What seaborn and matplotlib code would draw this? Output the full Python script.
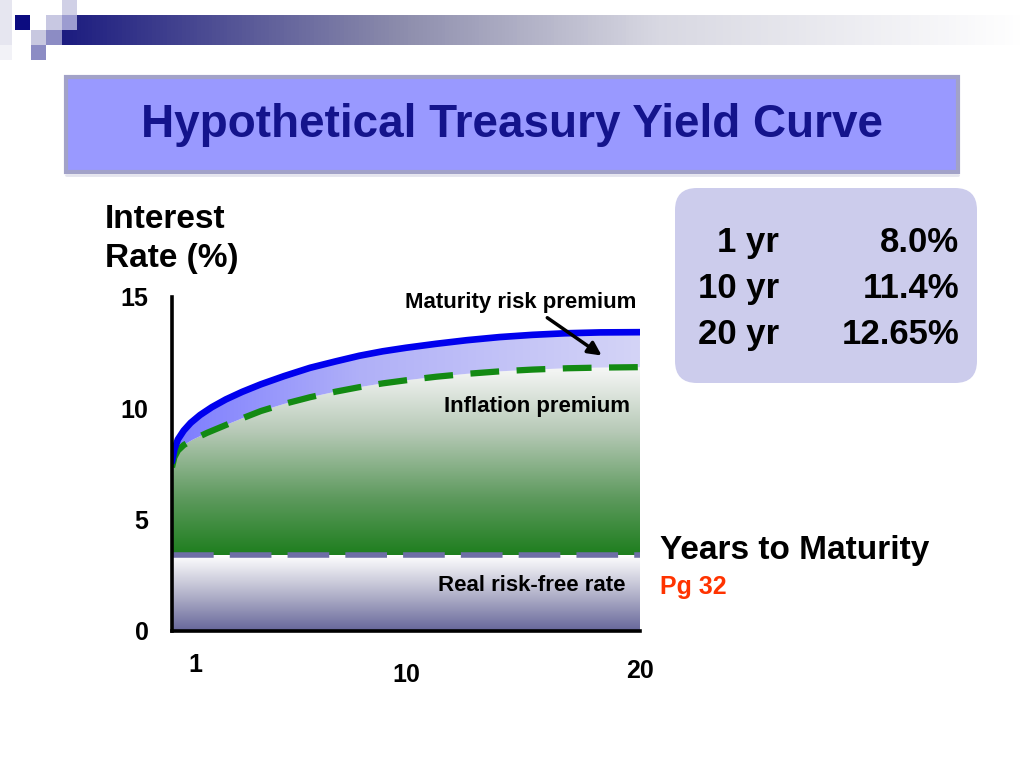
import numpy as np
import matplotlib
matplotlib.use("Agg")
import matplotlib.pyplot as plt
import seaborn as sns
from matplotlib.colors import LinearSegmentedColormap
from matplotlib.patches import Rectangle, FancyBboxPatch, Polygon
from matplotlib.transforms import ScaledTranslation


# Curves (years, percent)
years_yield = [0, 0.1, 0.25, 0.5, 0.8, 1.2, 1.7, 2.3, 3.0, 3.8, 4.8, 5.9,
               7.0, 8.0, 9.0, 10.0, 11.3, 12.6, 14.0, 15.4, 16.8, 18.3, 20]
yield_curve = [7.6, 8.15, 8.6, 9.0, 9.35, 9.7, 10.05, 10.4, 10.74, 11.08, 11.45, 11.82,
               12.11, 12.36, 12.56, 12.72, 12.9, 13.06, 13.2, 13.3, 13.37, 13.41, 13.42]

years_infl = [0, 0.1, 0.25, 0.5, 0.9, 1.5, 2.3, 3.0, 3.8, 4.8, 5.9, 7.0,
              8.0, 9.0, 10.0, 11.3, 12.6, 14.0, 15.4, 16.9, 18.3, 20]
inflation_curve = [7.35, 7.8, 8.1, 8.35, 8.6, 8.9, 9.25, 9.55, 9.88, 10.2, 10.5, 10.75,
                   10.95, 11.12, 11.26, 11.42, 11.55, 11.66, 11.74, 11.8, 11.83, 11.85]

real_rate = 3.4

x_ticks = [1, 10, 20]
y_ticks = [0, 5, 10, 15]

table_terms = ["1 yr", "10 yr", "20 yr"]
table_rates = ["8.0%", "11.4%", "12.65%"]


sns.set_theme(style="white")
plt.rcParams["font.family"] = ["Liberation Sans", "DejaVu Sans"]
plt.rcParams["font.weight"] = "bold"

fig = plt.figure(figsize=(10.24, 7.68), dpi=100)

# *Slide decoration (pixel coordinates)
deco = fig.add_axes([0, 0, 1, 1], zorder=0)
bar_cmap = LinearSegmentedColormap.from_list(
    "bar", [(0, "#1c1c80"), (0.35, "#8c8cac"), (0.62, "#d8d8e2"), (1, "#ffffff")]
)
deco.imshow(np.linspace(0, 1, 256)[None, :], cmap=bar_cmap,
            extent=(62, 1024, 45, 15), aspect="auto")
squares = [
    (0, 0, 12, 45, "#e6e6f0"), (0, 45, 12, 15, "#f2f2f7"),
    (15, 15, 15, 15, "#0c0c80"), (46, 15, 16, 15, "#c8c8e2"),
    (62, 0, 15, 15, "#d0d0e6"), (62, 15, 15, 15, "#9c9cd0"),
    (31, 30, 15, 15, "#c8c8e0"), (46, 30, 16, 15, "#8c8cc4"),
    (31, 45, 15, 15, "#8c8cc4"),
]
for sx, sy, sw, sh, c in squares:
    deco.add_patch(Rectangle((sx, sy), sw, sh, facecolor=c, edgecolor="none"))

deco.add_patch(Rectangle((66, 77), 892, 95, facecolor="#9999ff",
                         edgecolor="#a2a2c8", lw=3))
deco.plot([66, 958], [175, 175], color="#e4e4ee", lw=2)
deco.text(512, 125, "Hypothetical Treasury Yield Curve", ha="center", va="center",
          fontsize=33, fontweight="bold", color="#14148c")

deco.add_patch(FancyBboxPatch((675, 188), 302, 195,
                              boxstyle="round,pad=0,rounding_size=22",
                              facecolor="#ccccec", edgecolor="none"))
for i, (term, rate) in enumerate(zip(table_terms, table_rates)):
    base = 252 + 46 * i
    deco.text(779, base, term, ha="right", va="baseline", fontsize=25,
              fontweight="bold", color="black")
    deco.text(959, base, rate, ha="right", va="baseline", fontsize=25,
              fontweight="bold", color="black")

deco.text(660, 594, "Pg 32", ha="left", va="baseline", fontsize=18,
          fontweight="bold", color="#ff3300")
deco.set_xlim(0, 1024)
deco.set_ylim(768, 0)
deco.axis("off")

# *Yield curve axes
ax = fig.add_axes([172 / 1024, 1 - 631 / 768, 468 / 1024, 334 / 768], zorder=1)
ax.set_facecolor("none")

# real risk-free band
rf_cmap = LinearSegmentedColormap.from_list(
    "rf", [(0, "#66669a"), (0.5, "#b6b6cc"), (1, "#ffffff")]
)
ax.imshow(np.linspace(0, 1, 256)[:, None], cmap=rf_cmap, origin="lower",
          extent=(0, 20, 0, real_rate), aspect="auto", zorder=1)

# inflation premium band
green_cmap = LinearSegmentedColormap.from_list(
    "gr", [(0, "#1e7e1e"), (0.3, "#5e9a5e"), (0.65, "#b8cab8"), (1, "#fafafa")]
)
green_poly = Polygon(list(zip(years_infl, inflation_curve)) + [(20, real_rate), (0, real_rate)],
                     closed=True, facecolor="none", edgecolor="none")
ax.add_patch(green_poly)
img = ax.imshow(np.linspace(0, 1, 256)[:, None], cmap=green_cmap, origin="lower",
                extent=(0, 20, real_rate, 12), aspect="auto", zorder=1)
img.set_clip_path(green_poly)

# maturity risk premium band
blue_cmap = LinearSegmentedColormap.from_list(
    "bl", [(0, "#7c7cff"), (0.4, "#b0b0f8"), (1, "#d4d4f6")]
)
blue_poly = Polygon(list(zip(years_yield, yield_curve))
                    + list(zip(years_infl[::-1], inflation_curve[::-1])),
                    closed=True, facecolor="none", edgecolor="none")
ax.add_patch(blue_poly)
img = ax.imshow(np.linspace(0, 1, 256)[None, :], cmap=blue_cmap, origin="lower",
                extent=(0, 20, 7, 14), aspect="auto", zorder=1)
img.set_clip_path(blue_poly)

# curves
sns.lineplot(x=[0, 20], y=[real_rate, real_rate], color="#6e6ea6", lw=4, ax=ax, zorder=3)
ax.lines[-1].set_dashes((7.5, 2.9))
sns.lineplot(x=years_infl, y=inflation_curve, color="#138a13", lw=4.5, ax=ax, zorder=3)
ax.lines[-1].set_dashes((4.6, 2.8))
sns.lineplot(x=years_yield, y=yield_curve, color="#0000ee", lw=4.8, ax=ax, zorder=4)
ax.lines[-1].set_solid_capstyle("round")

# labels on the bands
ax.text(19.83, 14.5, "Maturity risk premium", ha="right", va="baseline",
        fontsize=16, fontweight="bold", color="black", clip_on=False)
ax.text(19.57, 9.83, "Inflation premium", ha="right", va="baseline",
        fontsize=16, fontweight="bold", color="black", zorder=5)
ax.text(19.36, 1.8, "Real risk-free rate", ha="right", va="baseline",
        fontsize=16, fontweight="bold", color="black", zorder=5)
ax.annotate("", xy=(18.46, 12.3), xytext=(15.94, 14.14),
            arrowprops=dict(arrowstyle="-|>", color="black", lw=2.5,
                            mutation_scale=20), zorder=6)

ax.set_xlim(0, 20)
ax.set_ylim(0, 15)
ax.set_xticks(x_ticks)
ax.set_yticks(y_ticks)
sns.despine(ax=ax)
for side in ["left", "bottom"]:
    ax.spines[side].set_linewidth(2.6)
    ax.spines[side].set_color("black")
    ax.spines[side].set_zorder(6)
ax.tick_params(direction="in", length=8, width=2.2, color="black",
               labelsize=18, labelcolor="black")
ax.tick_params(axis="y", pad=17)
ax.tick_params(axis="x", pad=16)
for lab in ax.get_xticklabels() + ax.get_yticklabels():
    lab.set_fontweight("bold")

# staggered x tick labels as in the slide
for lab, dy in zip(ax.get_xticklabels(), [0, 10, 6]):
    lab.set_transform(lab.get_transform()
                      + ScaledTranslation(0, -dy / 100, fig.dpi_scale_trans))

ax.set_ylabel("Interest\nRate (%)", rotation=0, ha="left", va="bottom",
              fontsize=24, fontweight="bold", color="black", linespacing=1.3)
ax.yaxis.set_label_coords(-0.143, 1.07)
ax.set_xlabel("Years to Maturity", ha="left", va="baseline",
              fontsize=24, fontweight="bold", color="black")
ax.xaxis.set_label_coords(1.043, 0.2156)

fig.savefig("out.png", dpi=100)
